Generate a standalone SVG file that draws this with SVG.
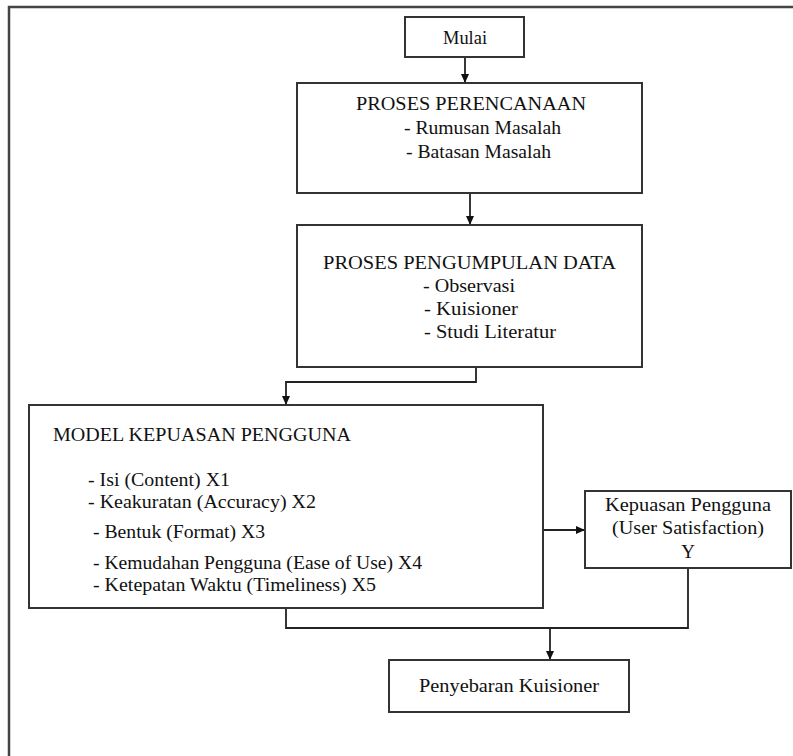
<svg xmlns="http://www.w3.org/2000/svg" width="793" height="756" viewBox="0 0 793 756">
<defs>
<marker id="ah" markerWidth="10" markerHeight="10" refX="9" refY="5" orient="auto" markerUnits="userSpaceOnUse">
<path d="M0,1 L9,5 L0,9 Z" fill="#111"/>
</marker>
<style>
.box{fill:#fff;stroke:#333;stroke-width:2}
.frame{fill:none;stroke:#444;stroke-width:2.5}
.ln{fill:none;stroke:#222;stroke-width:1.8}
text{font-family:"Liberation Serif","DejaVu Serif",serif;font-size:19px;fill:#111}
.c{text-anchor:middle}
</style>
</defs>
<rect width="793" height="756" fill="#fff"/>
<path class="frame" d="M9,756 L9,7 L793,7"/>
<g id="connectors">
<path class="ln" d="M465,57 L465,83" marker-end="url(#ah)"/>
<path class="ln" d="M470,193 L470,225" marker-end="url(#ah)"/>
<path class="ln" d="M476,367 L476,382 L286,382 L286,405" marker-end="url(#ah)"/>
<path class="ln" d="M543,530 L585,530" marker-end="url(#ah)"/>
<path class="ln" d="M286,608 L286,628 L688,628 L688,568"/>
<path class="ln" d="M550,628 L550,660" marker-end="url(#ah)"/>
</g>
<g id="mulai">
<rect class="box" x="405" y="17" width="119" height="40"/>
<text x="443" y="44" textLength="44" lengthAdjust="spacingAndGlyphs">Mulai</text>
</g>
<g id="perencanaan">
<rect class="box" x="297" y="83" width="345" height="110"/>
<text x="356" y="110" textLength="230" lengthAdjust="spacingAndGlyphs">PROSES PERENCANAAN</text>
<text x="404" y="134" textLength="157" lengthAdjust="spacingAndGlyphs">- Rumusan Masalah</text>
<text x="406" y="158" textLength="145" lengthAdjust="spacingAndGlyphs">- Batasan Masalah</text>
</g>
<g id="pengumpulan">
<rect class="box" x="297" y="225" width="345" height="142"/>
<text x="323" y="269" textLength="293" lengthAdjust="spacingAndGlyphs">PROSES PENGUMPULAN DATA</text>
<text x="423" y="292" textLength="92" lengthAdjust="spacingAndGlyphs">- Observasi</text>
<text x="424" y="315" textLength="94" lengthAdjust="spacingAndGlyphs">- Kuisioner</text>
<text x="424" y="338" textLength="132" lengthAdjust="spacingAndGlyphs">- Studi Literatur</text>
</g>
<g id="model">
<rect class="box" x="29" y="405" width="514" height="203"/>
<text x="53" y="441" textLength="298" lengthAdjust="spacingAndGlyphs">MODEL KEPUASAN PENGGUNA</text>
<text x="88" y="486" textLength="142" lengthAdjust="spacingAndGlyphs">- Isi (Content) X1</text>
<text x="88" y="508" textLength="228" lengthAdjust="spacingAndGlyphs">- Keakuratan (Accuracy) X2</text>
<text x="93" y="538" textLength="172" lengthAdjust="spacingAndGlyphs">- Bentuk (Format) X3</text>
<text x="93" y="569" textLength="329" lengthAdjust="spacingAndGlyphs">- Kemudahan Pengguna (Ease of Use) X4</text>
<text x="93" y="591" textLength="283" lengthAdjust="spacingAndGlyphs">- Ketepatan Waktu (Timeliness) X5</text>
</g>
<g id="kepuasan">
<rect class="box" x="585" y="491" width="206" height="77"/>
<text class="c" x="688" y="511" textLength="166" lengthAdjust="spacingAndGlyphs">Kepuasan Pengguna</text>
<text class="c" x="688" y="534" textLength="152" lengthAdjust="spacingAndGlyphs">(User Satisfaction)</text>
<text class="c" x="688" y="558">Y</text>
</g>
<g id="penyebaran">
<rect class="box" x="389" y="660" width="240" height="52"/>
<text x="419" y="692" textLength="180" lengthAdjust="spacingAndGlyphs">Penyebaran Kuisioner</text>
</g>
</svg>
